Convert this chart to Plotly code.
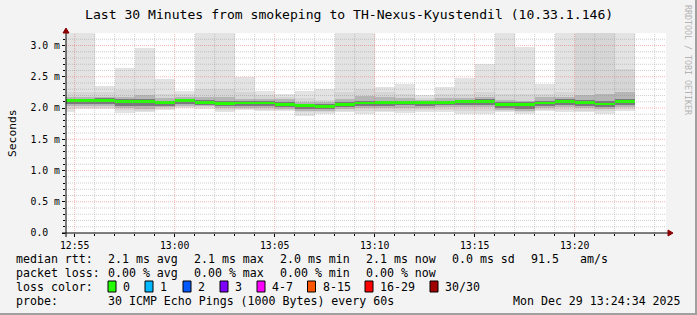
import plotly.graph_objects as go
from datetime import datetime, timedelta

# ---------------- data (milliseconds) ----------------
bar_end = ["12:55", "12:56", "12:57", "12:58", "12:59", "13:00", "13:01", "13:02",
           "13:03", "13:04", "13:05", "13:06", "13:07", "13:08", "13:09", "13:10",
           "13:11", "13:12", "13:13", "13:14", "13:15", "13:16", "13:17", "13:18",
           "13:19", "13:20", "13:21", "13:22", "13:23"]
ping_max = [3.8, 3.8, 2.36, 2.64, 2.96, 2.47, 2.27, 3.8, 3.8, 2.49, 2.27, 2.23, 2.27, 2.30,
            3.8, 3.8, 2.33, 2.38, 2.21, 2.33, 2.48, 2.70, 3.8, 2.97, 2.39, 3.8, 3.8, 3.8, 3.8]
band2_hi = [2.26, 2.26, 2.26, 2.29, 2.30, 2.23, 2.22, 2.30, 2.30, 2.26, 2.21, 2.18, 2.16, 2.13,
            2.26, 2.31, 2.26, 2.23, 2.16, 2.23, 2.23, 2.26, 2.23, 2.23, 2.23, 2.26, 3.5, 3.5, 2.63]
band3_hi = [2.18, 2.18, 2.18, 2.18, 2.21, 2.16, 2.17, 2.18, 2.18, 2.15, 2.15, 2.14, 2.10, 2.09,
            2.15, 2.20, 2.18, 2.16, 2.13, 2.16, 2.16, 2.18, 2.13, 2.12, 2.18, 2.18, 2.21, 2.23, 2.25]
band4_hi = [2.15, 2.15, 2.155, 2.14, 2.15, 2.12, 2.14, 2.13, 2.12, 2.11, 2.12, 2.09, 2.07, 2.06,
            2.09, 2.12, 2.12, 2.12, 2.11, 2.12, 2.13, 2.14, 2.09, 2.09, 2.12, 2.14, 2.13, 2.12, 2.15]
median = [2.125, 2.125, 2.12, 2.10, 2.11, 2.093, 2.125, 2.09, 2.07, 2.08, 2.08, 2.055, 2.037, 2.03,
          2.053, 2.08, 2.085, 2.09, 2.093, 2.093, 2.11, 2.11, 2.058, 2.058, 2.08, 2.11, 2.09, 2.066, 2.11]
band4_lo = [2.06, 2.06, 2.06, 2.04, 2.03, 2.04, 2.06, 2.05, 2.03, 2.03, 2.03, 2.01, 1.99, 1.99,
            2.01, 2.03, 2.04, 2.05, 2.04, 2.05, 2.05, 2.05, 2.00, 1.98, 2.03, 2.05, 2.04, 2.01, 2.05]
band3_lo = [2.03, 2.03, 2.03, 2.00, 1.99, 2.02, 2.04, 2.03, 2.00, 2.00, 2.00, 1.99, 1.96, 1.96,
            1.98, 2.00, 2.00, 2.00, 2.00, 2.01, 2.01, 2.01, 1.97, 1.95, 2.00, 2.01, 2.00, 1.98, 2.01]
band2_lo = [1.98, 2.00, 2.00, 1.97, 1.96, 1.99, 2.01, 2.01, 1.97, 1.99, 1.97, 1.97, 1.93, 1.93,
            1.95, 1.96, 1.96, 1.96, 1.97, 1.97, 1.96, 1.96, 1.95, 1.93, 1.97, 1.97, 1.96, 1.95, 1.98]
ping_min = [1.93, 1.98, 1.98, 1.92, 1.93, 1.97, 2.00, 1.99, 1.94, 1.97, 1.95, 1.95, 1.87, 1.90,
            1.93, 1.91, 1.93, 1.915, 1.94, 1.935, 1.90, 1.91, 1.93, 1.90, 1.95, 1.93, 1.93, 1.91, 1.95]

y_tickvals = [0.0, 0.5, 1.0, 1.5, 2.0, 2.5, 3.0]
y_ticktext = ["0.0\u00a0\u00a0", "0.5 m", "1.0 m", "1.5 m", "2.0 m", "2.5 m", "3.0 m"]

title_text = "Last 30 Minutes from smokeping to TH-Nexus-Kyustendil (10.33.1.146)"
legend_rows = [
    [("median rtt:", 16), ("2.1 ms avg", 107.5), ("2.1 ms max", 193.5), ("2.0 ms min", 279.5),
     ("2.1 ms now", 365.5), ("0.0 ms sd", 451.5), ("91.5", 530.5), ("am/s", 579.5)],
    [("packet loss:", 16), ("0.00 % avg", 107.5), ("0.00 % max", 193.5), ("0.00 % min", 279.5),
     ("0.00 % now", 365.5)],
    [("loss color:", 16)],
    [("probe:", 16), ("30 ICMP Echo Pings (1000 Bytes) every 60s", 107.5)],
]
loss_labels = ["0", "1", "2", "3", "4-7", "8-15", "16-29", "30/30"]
loss_colors = ["#26ff00", "#00b8ff", "#0059ff", "#7e00ff", "#ff00ff", "#ff5500", "#ff0000", "#a00000"]
loss_box_x = [108, 145, 183, 220, 257, 307.5, 365, 430]
stamp = "Mon Dec 29 13:24:34 2025"

# ---------------- geometry ----------------
W, H = 697, 315
L, T, PW, PH = 66, 33, 600, 200
R, B = W - L - PW, H - T - PH
def px(x): return (x - L) / PW
def py(y): return (T + PH - y) / PH

DAY = "2025-12-29 "
def ts(hm): return datetime.strptime(DAY + hm, "%Y-%m-%d %H:%M")
starts = [ts(e) - timedelta(minutes=1) for e in bar_end]
x0 = datetime(2025, 12, 29, 12, 54, 34)
x1 = datetime(2025, 12, 29, 13, 24, 34)

FONT = "DejaVu Sans Mono"
fig = go.Figure()

bands = [(ping_min, ping_max, "#e3e3e3"),
         (band2_lo, band2_hi, "#d6d6d6"),
         (band3_lo, band3_hi, "#b6b6b6"),
         (band4_lo, band4_hi, "#7a7a7a")]
for lo, hi, col in bands:
    fig.add_trace(go.Bar(x=starts, y=[h - l for l, h in zip(lo, hi)], base=lo,
                         width=60000, offset=0, marker=dict(color=col, line=dict(width=0)),
                         hoverinfo="skip", showlegend=False))
half = 0.022
fig.add_trace(go.Bar(x=starts, y=[2 * half] * len(median), base=[m - half for m in median],
                     width=60000, offset=0, marker=dict(color=loss_colors[0], line=dict(width=0)),
                     hoverinfo="skip", showlegend=False))

shapes = []
MAJ = "rgba(235,80,80,0.42)"
MIN = "rgba(140,140,140,0.42)"
# grid (above the smoke, like rrdtool)
t = datetime(2025, 12, 29, 12, 55)
while t <= x1:
    major = t.minute % 5 == 0
    shapes.append(dict(type="line", xref="x", yref="paper", x0=t, x1=t, y0=0, y1=1, layer="above",
                       line=dict(color=MAJ if major else MIN, width=1, dash="1px,1px")))
    t += timedelta(minutes=1)
for k in range(1, 32):
    v = k / 10
    major = k % 5 == 0
    shapes.append(dict(type="line", xref="paper", yref="y", x0=0, x1=1, y0=v, y1=v, layer="above",
                       line=dict(color=MAJ if major else MIN, width=1, dash="1px,1px")))
# axes lines and arrows
shapes.append(dict(type="line", xref="paper", yref="paper", x0=px(62), x1=px(669), y0=py(233), y1=py(233),
                   line=dict(color="black", width=1), layer="above"))
shapes.append(dict(type="line", xref="paper", yref="paper", x0=px(66), x1=px(66), y0=py(237), y1=py(31),
                   line=dict(color="black", width=1), layer="above"))
arrow = "#8a0000"
shapes.append(dict(type="path", xref="paper", yref="paper", layer="above", fillcolor=arrow,
                   line=dict(color=arrow, width=1),
                   path=f"M {px(668)} {py(230)} L {px(673)} {py(233)} L {px(668)} {py(236)} Z"))
shapes.append(dict(type="path", xref="paper", yref="paper", layer="above", fillcolor=arrow,
                   line=dict(color=arrow, width=1),
                   path=f"M {px(63)} {py(33)} L {px(66)} {py(28)} L {px(69)} {py(33)} Z"))
# legend colour boxes
for bx, col in zip(loss_box_x, loss_colors):
    shapes.append(dict(type="rect", xref="paper", yref="paper", x0=px(bx), x1=px(bx + 8),
                       y0=py(292), y1=py(281), fillcolor=col, line=dict(color="black", width=1)))
# frame
shapes.append(dict(type="line", xref="paper", yref="paper", x0=px(0), x1=px(697), y0=py(314), y1=py(314),
                   line=dict(color="#a0a0a0", width=2)))
shapes.append(dict(type="line", xref="paper", yref="paper", x0=px(696), x1=px(696), y0=py(0), y1=py(315),
                   line=dict(color="#a0a0a0", width=2)))

ann = []
def text(s, x, y, size=11.6, anchor="left", color="#000000", angle=0):
    ann.append(dict(text=s, x=px(x), y=py(y), xref="paper", yref="paper", showarrow=False,
                    xanchor=anchor, yanchor="middle", textangle=angle, borderpad=0, borderwidth=0,
                    font=dict(family=FONT, size=size, color=color)))

text(title_text, 348.5, 14, size=13.1, anchor="center")
text("Seconds", 12, 133, size=11.3, anchor="center", angle=-90)
text("RRDTOOL / TOBI OETIKER", 688, 60, size=8.3, anchor="center", color="#b4b4b4", angle=90)
row_y = [259, 273, 287, 301]
for row, yy in zip(legend_rows, row_y):
    for s, xx in row:
        text(s, xx, yy)
for bx, lab in zip(loss_box_x, loss_labels):
    text(lab, bx + 15, 287)
text(stamp, 681, 301, anchor="right")

fig.update_layout(
    width=W, height=H, margin=dict(l=L, r=R, t=T, b=B, pad=0),
    paper_bgcolor="#f3f3f3", plot_bgcolor="#ffffff",
    barmode="overlay", bargap=0, showlegend=False,
    shapes=shapes, annotations=ann,
    font=dict(family=FONT, color="#000000"),
)
fig.update_xaxes(type="date", range=[x0, x1], showgrid=False, zeroline=False, showline=False,
                 tick0=datetime(2025, 12, 29, 12, 55), dtick=300000, tickformat="%H:%M",
                 ticks="outside", ticklen=3, tickcolor="black",
                 minor=dict(dtick=60000, ticks="outside", ticklen=2, tickcolor="black", showgrid=False),
                 tickfont=dict(family=FONT, size=9.8, color="black"), fixedrange=True)
fig.update_yaxes(range=[0, 3.2], showgrid=False, zeroline=False, showline=False,
                 tickvals=y_tickvals, ticktext=y_ticktext,
                 ticks="outside", ticklen=3, tickcolor="black",
                 minor=dict(tickvals=[k / 10 for k in range(0, 32)], ticks="outside", ticklen=2,
                            tickcolor="black", showgrid=False),
                 tickfont=dict(family=FONT, size=9.8, color="black"), fixedrange=True)

fig.write_html("out.html")
